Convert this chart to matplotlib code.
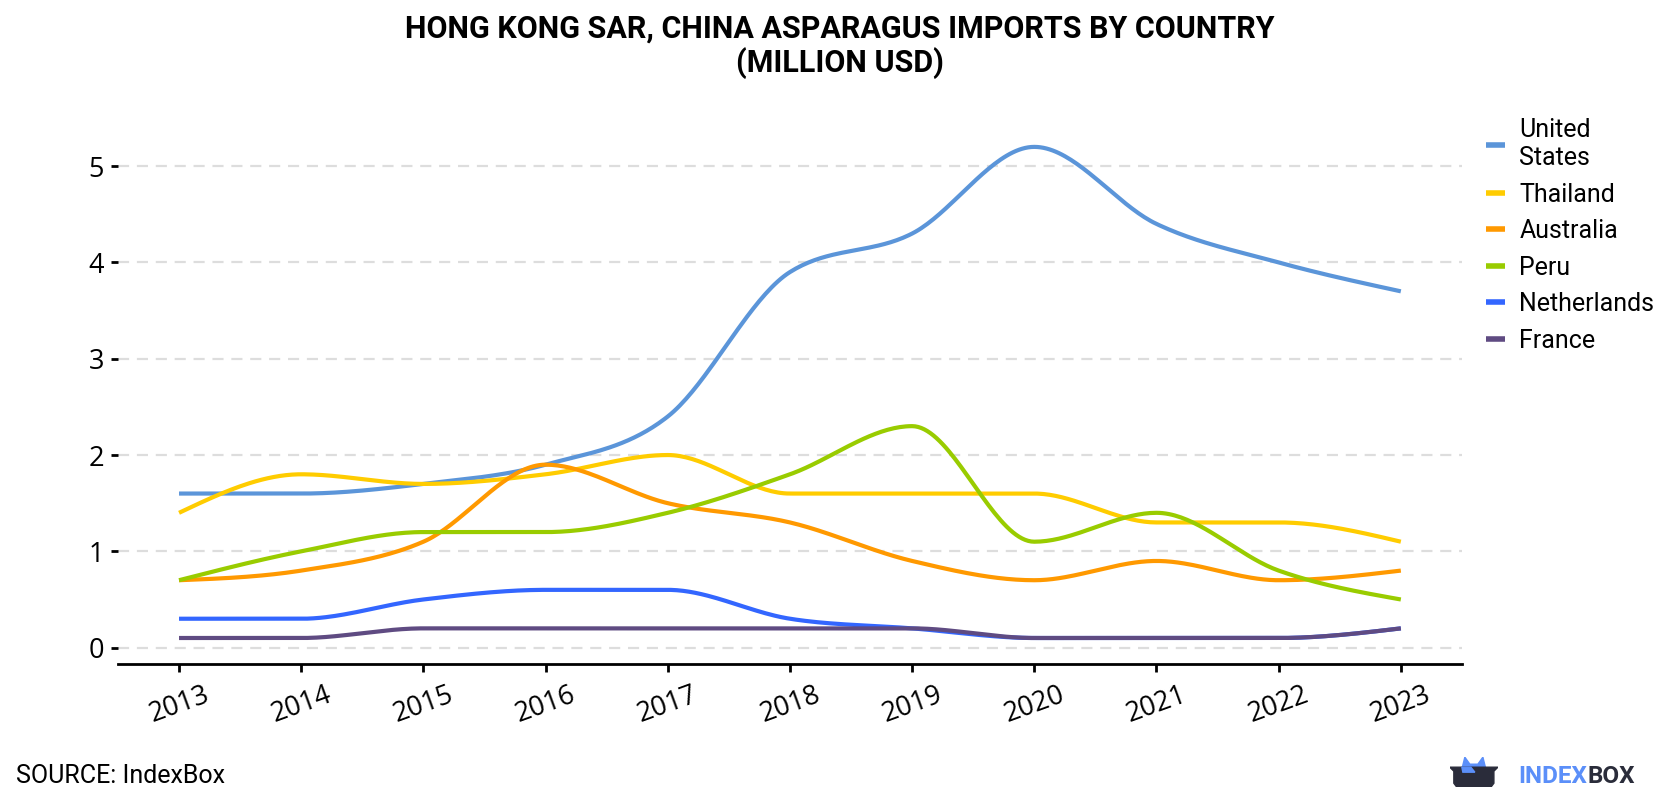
import matplotlib
matplotlib.use("Agg")
import matplotlib.pyplot as plt
from matplotlib.patches import Polygon
import numpy as np

years = [2013, 2014, 2015, 2016, 2017, 2018, 2019, 2020, 2021, 2022, 2023]

united_states = [1.6, 1.6, 1.7, 1.9, 2.4, 3.9, 4.3, 5.2, 4.4, 4.0, 3.7]
thailand = [1.4, 1.8, 1.7, 1.8, 2.0, 1.6, 1.6, 1.6, 1.3, 1.3, 1.1]
australia = [0.7, 0.8, 1.1, 1.9, 1.5, 1.3, 0.9, 0.7, 0.9, 0.7, 0.8]
peru = [0.7, 1.0, 1.2, 1.2, 1.4, 1.8, 2.3, 1.1, 1.4, 0.8, 0.5]
netherlands = [0.3, 0.3, 0.5, 0.6, 0.6, 0.3, 0.2, 0.1, 0.1, 0.1, 0.2]
france = [0.1, 0.1, 0.2, 0.2, 0.2, 0.2, 0.2, 0.1, 0.1, 0.1, 0.2]

series_names = ["United\nStates", "Thailand", "Australia", "Peru", "Netherlands", "France"]
series_values = [united_states, thailand, australia, peru, netherlands, france]
series_colors = ["#5b95d9", "#ffcc00", "#ff9900", "#99cc00", "#3366ff", "#5f4b82"]

title = "HONG KONG SAR, CHINA ASPARAGUS IMPORTS BY COUNTRY\n(MILLION USD)"
source = "SOURCE: IndexBox"


def monotone_curve(x, y, n=40):
    # monotone cubic (like d3.curveMonotoneX), only used for drawing the lines
    x = np.asarray(x, float)
    y = np.asarray(y, float)
    h = np.diff(x)
    s = np.diff(y) / h
    m = np.zeros(len(x))
    for i in range(1, len(x) - 1):
        p = (s[i - 1] * h[i] + s[i] * h[i - 1]) / (h[i - 1] + h[i])
        m[i] = (np.sign(s[i - 1]) + np.sign(s[i])) * min(abs(s[i - 1]), abs(s[i]), 0.5 * abs(p))
    m[0] = (3 * s[0] - m[1]) / 2
    m[-1] = (3 * s[-1] - m[-2]) / 2
    xs, ys = [], []
    for i in range(len(x) - 1):
        t = np.linspace(0, 1, n, endpoint=(i == len(x) - 2))
        h00 = 2 * t**3 - 3 * t**2 + 1
        h10 = t**3 - 2 * t**2 + t
        h01 = -2 * t**3 + 3 * t**2
        h11 = t**3 - t**2
        xs.append(x[i] + t * h[i])
        ys.append(h00 * y[i] + h10 * h[i] * m[i] + h01 * y[i + 1] + h11 * h[i] * m[i + 1])
    return np.concatenate(xs), np.concatenate(ys)


plt.rcParams["font.family"] = ["Roboto", "DejaVu Sans"]

fig = plt.figure(figsize=(16.8, 8), dpi=100)
ax = fig.add_axes([0.0702, 0.17, 0.80, 0.6825])

for name, vals, col in zip(series_names, series_values, series_colors):
    xs, ys = monotone_curve(years, vals)
    ax.plot(xs, ys, color=col, linewidth=3.0, label=name, solid_capstyle="butt")

ax.set_xlim(2012.5, 2023.5)
ax.set_ylim(-0.17, 5.5)
ax.set_yticks([0, 1, 2, 3, 4, 5])
ax.set_xticks(years)
ax.set_xticklabels([str(y) for y in years], rotation=20, fontsize=19.5, family="Open Sans")
for lab in ax.get_yticklabels():
    lab.set_family("Open Sans")
    lab.set_fontsize(19.5)

ax.grid(axis="y", color="#dddddd", linewidth=1.6, linestyle=(0, (5, 3.5)))
ax.set_axisbelow(True)
for side in ["top", "right", "left"]:
    ax.spines[side].set_visible(False)
ax.spines["bottom"].set_linewidth(2)
ax.tick_params(axis="x", length=6, width=2, pad=6)
ax.tick_params(axis="y", length=5, width=2, pad=5)

leg = fig.legend(loc="upper left", bbox_to_anchor=(0.8845, 0.852), frameon=False,
                 borderpad=0, borderaxespad=0, fontsize=18, handlelength=0.77,
                 handletextpad=0.56, labelspacing=0.5)
for line in leg.get_lines():
    line.set_linewidth(4)

fig.text(0.5, 0.9425, title, ha="center", va="center", fontsize=22, fontweight="bold",
         linespacing=1.15)
fig.text(0.0095, 0.03, source, ha="left", va="center", fontsize=18)

# IndexBox logo
logo = fig.add_axes([0.863, 0.016, 0.0286, 0.0375])
logo.set_xlim(0, 48)
logo.set_ylim(0, 30)
logo.axis("off")
logo.add_patch(Polygon([[12, 18], [15, 30], [20, 23], [28, 23], [33, 30], [36, 18]],
                       closed=True, color="#5b8ff9"))
logo.add_patch(Polygon([[0, 20], [48, 20], [44, 16], [44, 4], [41, 0], [7, 0], [4, 4], [4, 16]],
                       closed=True, color="#2a2c3a"))
logo.add_patch(Polygon([[12, 20], [21, 20], [25, 15], [13, 15]], closed=True, color="#5b8ff9"))
t_index = fig.text(0.9036, 0.0295, "INDEX", ha="left", va="center", fontsize=17.5,
                   fontweight="bold", color="#5b8ff9")
renderer = fig.canvas.get_renderer()
bb = t_index.get_window_extent(renderer=renderer)
x_box = fig.transFigure.inverted().transform((bb.x1 + 1, bb.y0))[0]
fig.text(x_box, 0.0295, "BOX", ha="left", va="center", fontsize=17.5, fontweight="bold",
         color="#2a2c3a")

fig.savefig("out.png", dpi=100)
